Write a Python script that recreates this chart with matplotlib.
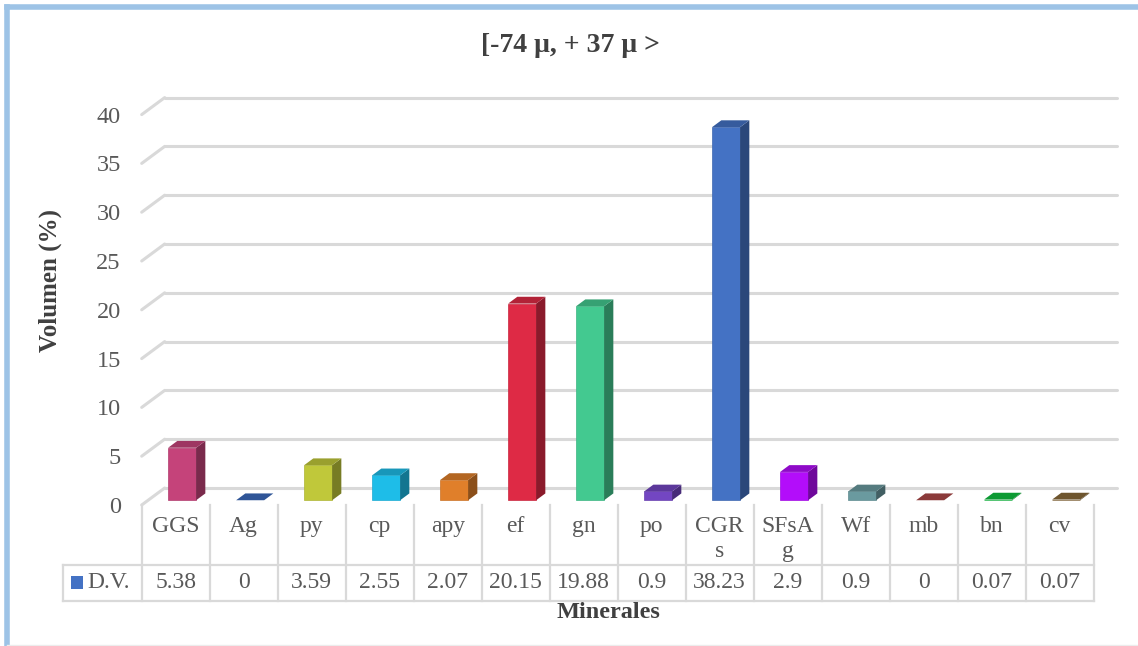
import matplotlib.pyplot as plt
from matplotlib.patches import Polygon, Rectangle
from matplotlib.lines import Line2D

plt.rcParams['font.family'] = ['Liberation Serif', 'DejaVu Serif']

# Mineral volumes (%)
minerales = ['GGS', 'Ag', 'py', 'cp', 'apy', 'ef', 'gn', 'po', 'CGRS', 'SFsAg', 'Wf', 'mb', 'bn', 'cv']
etiquetas = ['GGS', 'Ag', 'py', 'cp', 'apy', 'ef', 'gn', 'po', 'CGR\ns', 'SFsA\ng', 'Wf', 'mb', 'bn', 'cv']
volumen = [5.38, 0, 3.59, 2.55, 2.07, 20.15, 19.88, 0.9, 38.23, 2.9, 0.9, 0, 0.07, 0.07]
valores_txt = ['5.38', '0', '3.59', '2.55', '2.07', '20.15', '19.88', '0.9', '38.23', '2.9', '0.9', '0', '0.07', '0.07']
colores = ['#c5437a', '#2f5597', '#c0c83a', '#1ebde8', '#e07f2a', '#de2a45', '#43c990',
           '#7346c2', '#4472c4', '#b30dfa', '#6a9a9f', '#8b3a3a', '#10c040', '#8a6a3a']
yticks = [0, 5, 10, 15, 20, 25, 30, 35, 40]

GRID = '#d9d9d9'
TXT = '#595959'
TIT = '#404040'

# pseudo 3D depth vector (data units) and bar depth slice
DX, DY = 0.338, 1.742
D1, D2 = 0.28, 0.68
BW = 0.412


def shade(c, f):
    r, g, b = [int(c[k:k + 2], 16) / 255 for k in (1, 3, 5)]
    return (r * f, g * f, b * f)


fig = plt.figure(figsize=(11.38, 6.46), dpi=100)
W, H = 1138, 646

ax = fig.add_axes([141.7 / W, (H - 505) / H, 952 / W, 390.4 / H])
ax.set_xlim(-0.5, 13.5)
ax.set_ylim(0, 40)
for s in ax.spines.values():
    s.set_visible(False)
ax.set_xticks([])
ax.set_yticks(yticks)
ax.set_yticklabels([str(t) for t in yticks], fontsize=17.5, color=TXT)
ax.tick_params(axis='y', length=0, pad=15)

# back wall gridlines with diagonal stubs on the left
for t in yticks:
    ax.plot([-0.5 + DX, 13.5 + DX], [t + DY, t + DY], color=GRID, lw=2.2,
            solid_capstyle='round', clip_on=False, zorder=1)
    ax.plot([-0.5, -0.5 + DX], [t, t + DY], color=GRID, lw=2.2,
            solid_capstyle='round', clip_on=False, zorder=1)

# bars: front face, side and top
for i, (v, c) in enumerate(zip(volumen, colores)):
    x0 = i - BW / 2 + D1 * DX
    y0 = D1 * DY
    x1 = x0 + BW
    ddx = (D2 - D1) * DX
    ddy = (D2 - D1) * DY
    if v > 0:
        ax.bar(x0, v, width=BW, bottom=y0, align='edge', color=c,
               edgecolor=shade(c, 0.9), linewidth=0.5, zorder=3, clip_on=False)
        side = Polygon([(x1, y0), (x1 + ddx, y0 + ddy), (x1 + ddx, y0 + v + ddy), (x1, y0 + v)],
                       closed=True, facecolor=shade(c, 0.62), edgecolor='none', zorder=3, clip_on=False)
        ax.add_patch(side)
        top_c = shade(c, 0.8)
    else:
        top_c = c
    top = Polygon([(x0, y0 + v), (x1, y0 + v), (x1 + ddx, y0 + v + ddy), (x0 + ddx, y0 + v + ddy)],
                  closed=True, facecolor=top_c, edgecolor='none', zorder=4, clip_on=False)
    ax.add_patch(top)

# data table below the bars
tax = fig.add_axes([141.7 / W, (H - 601) / H, 952 / W, 96 / H])
tax.set_xlim(-0.5, 13.5)
tax.set_ylim(96, 0)
tax.axis('off')
xl = -0.5 - (141.7 - 63) / 68
for k in range(15):
    tax.plot([k - 0.5, k - 0.5], [0, 96], color=GRID, lw=1.6, clip_on=False)
tax.plot([xl, 13.5], [60, 60], color=GRID, lw=1.6, clip_on=False)
tax.plot([xl, 13.5], [96, 96], color=GRID, lw=1.6, clip_on=False)
tax.plot([xl, xl], [60, 96], color=GRID, lw=1.6, clip_on=False)
for i, (lab, val) in enumerate(zip(etiquetas, valores_txt)):
    tax.text(i, 11, lab, ha='center', va='top', fontsize=17, color=TXT, linespacing=1.25)
    tax.text(i, 78, val, ha='center', va='center', fontsize=17, color=TXT)
tax.add_patch(Rectangle((xl + 8 / 68, 71), 12 / 68, 13, facecolor='#4472c4',
                        edgecolor='none', clip_on=False))
tax.text(xl + 24 / 68, 78, 'D.V.', ha='left', va='center', fontsize=17, color=TXT)

# titles
fig.text(570 / W, 1 - 45 / H, '[-74 μ, + 37 μ >', ha='center', va='center',
         fontsize=20, fontweight='bold', color=TIT)
fig.text(50 / W, 1 - 280 / H, 'Volumen (%)', ha='center', va='center', rotation=90,
         fontsize=18, fontweight='bold', color=TIT)
fig.text(608 / W, 1 - 612 / H, 'Minerales', ha='center', va='center',
         fontsize=17.5, fontweight='bold', color=TIT)

# chart frame
fig.add_artist(Line2D([7 / W, 1], [1 - 7 / H, 1 - 7 / H], color='#9dc3e6', lw=4,
                      transform=fig.transFigure))
fig.add_artist(Line2D([7 / W, 7 / W], [0, 1 - 7 / H], color='#9dc3e6', lw=4,
                      transform=fig.transFigure))
fig.add_artist(Line2D([7 / W, 1], [1.5 / H, 1.5 / H], color='#ececec', lw=1,
                      transform=fig.transFigure))

fig.savefig('out.png', dpi=100)
